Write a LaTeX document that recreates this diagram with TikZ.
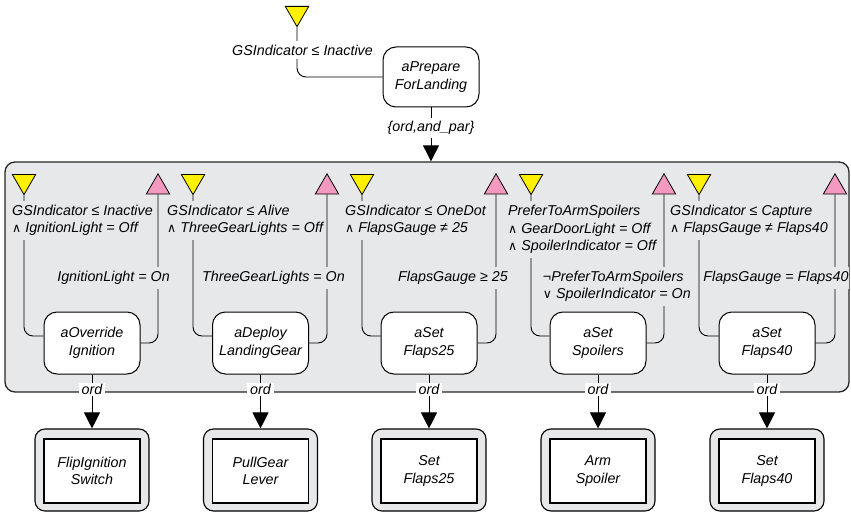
\documentclass[tikz,border=0pt]{standalone}
\usepackage{fontspec}
\setmainfont{Liberation Sans}
\newfontfamily\symf{DejaVu Sans}
\usetikzlibrary{shapes.geometric,arrows.meta}
\definecolor{bggray}{RGB}{231,232,234}
\definecolor{tyellow}{RGB}{255,241,0}
\definecolor{tpink}{RGB}{244,154,193}
\newcommand{\andsym}{{\symf\upshape\fontsize{12.5}{17.5}\selectfont ∧}}
\newcommand{\orsym}{{\symf\upshape\fontsize{12.5}{17.5}\selectfont ∨}}
\begin{document}
\begin{tikzpicture}[x=1pt,y=-1pt,
  font=\fontsize{14.3}{17.5}\selectfont\itshape,
  act/.style={draw, line width=1pt, rounded corners=13pt, fill=white,
    minimum width=96pt, minimum height=62pt, align=center, inner sep=0pt},
  ytri/.style={regular polygon, regular polygon sides=3, shape border rotate=180,
    draw, line width=0.8pt, fill=tyellow, minimum size=27pt, inner sep=0pt, anchor=north},
  ptri/.style={regular polygon, regular polygon sides=3,
    draw, line width=0.8pt, fill=tpink, minimum size=27pt, inner sep=0pt, anchor=north},
  wire/.style={line width=0.9pt, rounded corners=9pt},
  arr/.style={line width=0.9pt, -{Triangle[length=16pt,width=16pt]}},
  cond/.style={fill=bggray, inner xsep=1pt, inner ysep=4pt, align=left},
  ordlbl/.style={fill=white, inner xsep=3pt, inner ysep=1.5pt},
  outerbox/.style={draw, line width=1.1pt, fill=bggray, rounded corners=10pt,
    minimum width=114pt, minimum height=82pt, inner sep=0pt},
  innerbox/.style={draw, line width=1.1pt, fill=white,
    minimum width=96pt, minimum height=64pt, align=center, inner sep=0pt},
]
\useasboundingbox (0,0) rectangle (851,513);

% container
\node[draw=black!85, line width=1.3pt, fill=bggray, rounded corners=10pt,
  minimum width=844pt, minimum height=230pt, inner sep=0pt] (cont) at (427,277) {};

% top part
\node[ytri] (y0) at (297,6) {};
\node[act, minimum height=60pt] (n0) at (431,77) {aPrepare\\ForLanding};
\draw[wire] (y0.south) |- (n0.west);
\node[fill=white, inner xsep=2pt, inner ysep=4pt] (l0) at (302.5,50) {GSIndicator ≤ Inactive};
\draw[arr] (n0.south) -- (n0.south |- cont.north);
\node[fill=white, inner xsep=1pt, inner ysep=3pt] (l0b) at (431,128) {\{ord,and\_par\}};

% activity nodes
\node[act] (n1) at (92,343) {aOverride\\Ignition};
\node[act] (n2) at (260.5,343) {aDeploy\\LandingGear};
\node[act] (n3) at (429,343) {aSet\\Flaps25};
\node[act] (n4) at (598,343) {aSet\\Spoilers};
\node[act] (n5) at (767,343) {aSet\\Flaps40};

% triangles
\node[ytri] (y1) at (24,174) {};
\node[ytri] (y2) at (193,174) {};
\node[ytri] (y3) at (362,174) {};
\node[ytri] (y4) at (531,174) {};
\node[ytri] (y5) at (699,174) {};
\node[ptri] (p1) at (158,173) {};
\node[ptri] (p2) at (327,173) {};
\node[ptri] (p3) at (496,173) {};
\node[ptri] (p4) at (664,173) {};
\node[ptri] (p5) at (835,173) {};

% wires
\foreach \i in {1,...,5}{
  \draw[wire] (y\i.south) |- ([yshift=7pt]n\i.west);
  \draw[wire] (n\i.east) -| (p\i.south);
}

% preconditions
\node[cond, anchor=west] (c1) at (11,220.5) {GSIndicator ≤ Inactive\\\andsym\ IgnitionLight = Off};
\node[cond, anchor=west] (c2) at (166,220.5) {GSIndicator ≤ Alive\\\andsym\ ThreeGearLights = Off};
\node[cond, anchor=west] (c3) at (344,220.5) {GSIndicator ≤ OneDot\\\andsym\ FlapsGauge ≠ 25};
\node[cond, anchor=west] (c4) at (507,229.5) {PreferToArmSpoilers\\\andsym\ GearDoorLight = Off\\\andsym\ SpoilerIndicator = Off};
\node[cond, anchor=west] (c5) at (669,220.5) {GSIndicator ≤ Capture\\\andsym\ FlapsGauge ≠ Flaps40};

% postconditions
\node[cond, anchor=east] (d1) at (171,278) {IgnitionLight = On};
\node[cond, anchor=east] (d2) at (346,278) {ThreeGearLights = On};
\node[cond, anchor=east] (d3) at (509,278) {FlapsGauge ≥ 25};
\node[cond, anchor=east] (d4) at (692,286.5) {¬PreferToArmSpoilers\\\orsym\ SpoilerIndicator = On};
\node[cond, anchor=east, inner xsep=0.3pt] (d5) at (849,278) {FlapsGauge = Flaps40};

% bottom boxes
\node[outerbox] (o1) at (92,470) {};
\node[outerbox] (o2) at (260.5,470) {};
\node[outerbox] (o3) at (429,470) {};
\node[outerbox] (o4) at (598,470) {};
\node[outerbox] (o5) at (767,470) {};
\node[innerbox] (b1) at (92,471) {FlipIgnition\\Switch};
\node[innerbox] (b2) at (260.5,471) {PullGear\\Lever};
\node[innerbox] (b3) at (429,471) {Set\\Flaps25};
\node[innerbox] (b4) at (598,471) {Arm\\Spoiler};
\node[innerbox] (b5) at (767,471) {Set\\Flaps40};

\foreach \i in {1,...,5}{
  \draw[arr] (n\i.south) -- (o\i.north);
  \node[ordlbl] (r\i) at (n\i.south |- 0,389.5) {ord};
}
\end{tikzpicture}
\end{document}
